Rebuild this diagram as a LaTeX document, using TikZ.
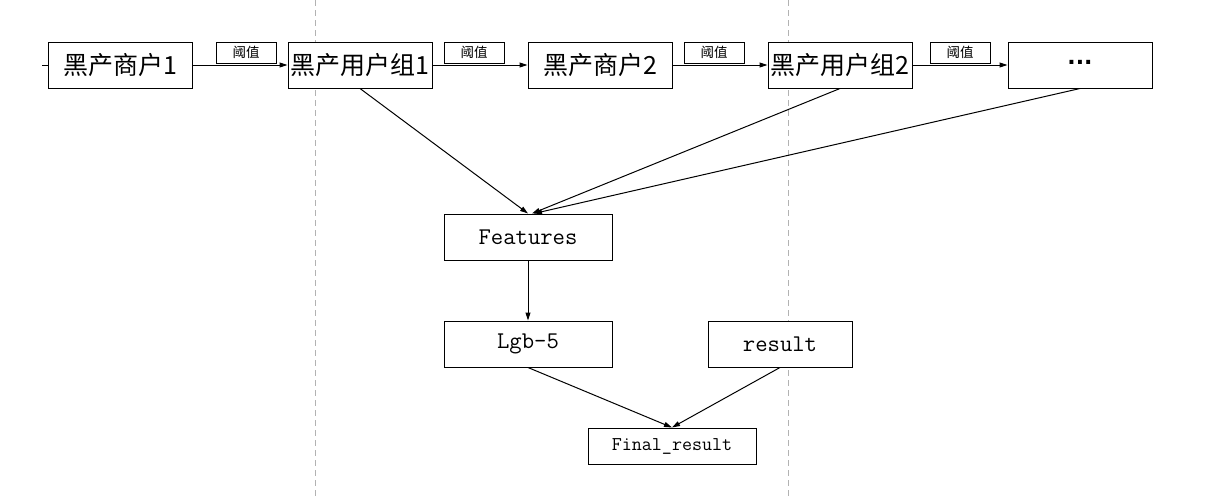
\documentclass[tikz,border=0pt]{standalone}
\usepackage{fontspec}
\newfontfamily\cjk{Noto Sans CJK SC}
\newfontfamily\dv{DejaVu Sans}
\usetikzlibrary{arrows.meta}
\tikzset{
  box/.style={draw=black, line width=1pt, fill=white, rectangle, inner sep=0pt},
  bigbox/.style={box, minimum width=144pt, minimum height=46pt, font=\cjk\fontsize{25}{27}\selectfont},
  latbox/.style={box, minimum width=168pt, minimum height=46pt, font=\ttfamily\fontsize{24}{26}\selectfont},
  thr/.style={box, minimum width=60pt, minimum height=21pt, font=\cjk\fontsize{13.5}{15}\selectfont},
  conn/.style={line width=1pt, -{Triangle[length=8pt,width=5pt]}},
  guide/.style={line width=1pt, draw=black!30, dash pattern=on 6pt off 4pt},
}
\begin{document}
\begin{tikzpicture}[x=1pt,y=-1pt]
\useasboundingbox (0,0) rectangle (1218,498);
\draw[guide] (315,0) -- (315,498);
\draw[guide] (788,0) -- (788,498);

\node[bigbox] (b1) at (120,65) {黑产商户1};
\node[bigbox] (b2) at (360,65) {黑产用户组1};
\node[bigbox] (b3) at (600,65) {黑产商户2};
\node[bigbox] (b4) at (840,65) {黑产用户组2};
\node[bigbox, font=\dv\bfseries\fontsize{22}{24}\selectfont] (b5) at (1080,65) {\raisebox{0.28em}{...}};

\node[thr] (t1) at (246,52.5) {阈值};
\node[thr] (t2) at (474,52.5) {阈值};
\node[thr] (t3) at (714,52.5) {阈值};
\node[thr] (t4) at (960,52.5) {阈值};

\node[latbox] (feat) at (528,237) {Features};
\node[latbox] (lgb) at (528,344) {Lgb-5};
\node[latbox, minimum width=144pt] (res) at (780,344) {result};
\node[latbox, minimum height=36pt, font=\ttfamily\fontsize{19.5}{22}\selectfont] (fin) at (672,446) {Final\_result};

\coordinate (stub) at (42,65);
\draw[line width=1pt] (stub) -- (b1.west);
\draw[conn] (b1) -- (b2);
\draw[conn] (b2) -- (b3);
\draw[conn] (b3) -- (b4);
\draw[conn] (b4) -- (b5);

\draw[conn] (b2.south) -- (feat.north);
\draw[conn] (b4.south) -- ([xshift=4pt]feat.north);
\draw[conn] (b5.south) -- ([xshift=6pt]feat.north);
\draw[conn] (feat) -- (lgb);
\draw[conn] (lgb.south) -- (fin.north);
\draw[conn] (res.south) -- (fin.north);
\end{tikzpicture}
\end{document}
